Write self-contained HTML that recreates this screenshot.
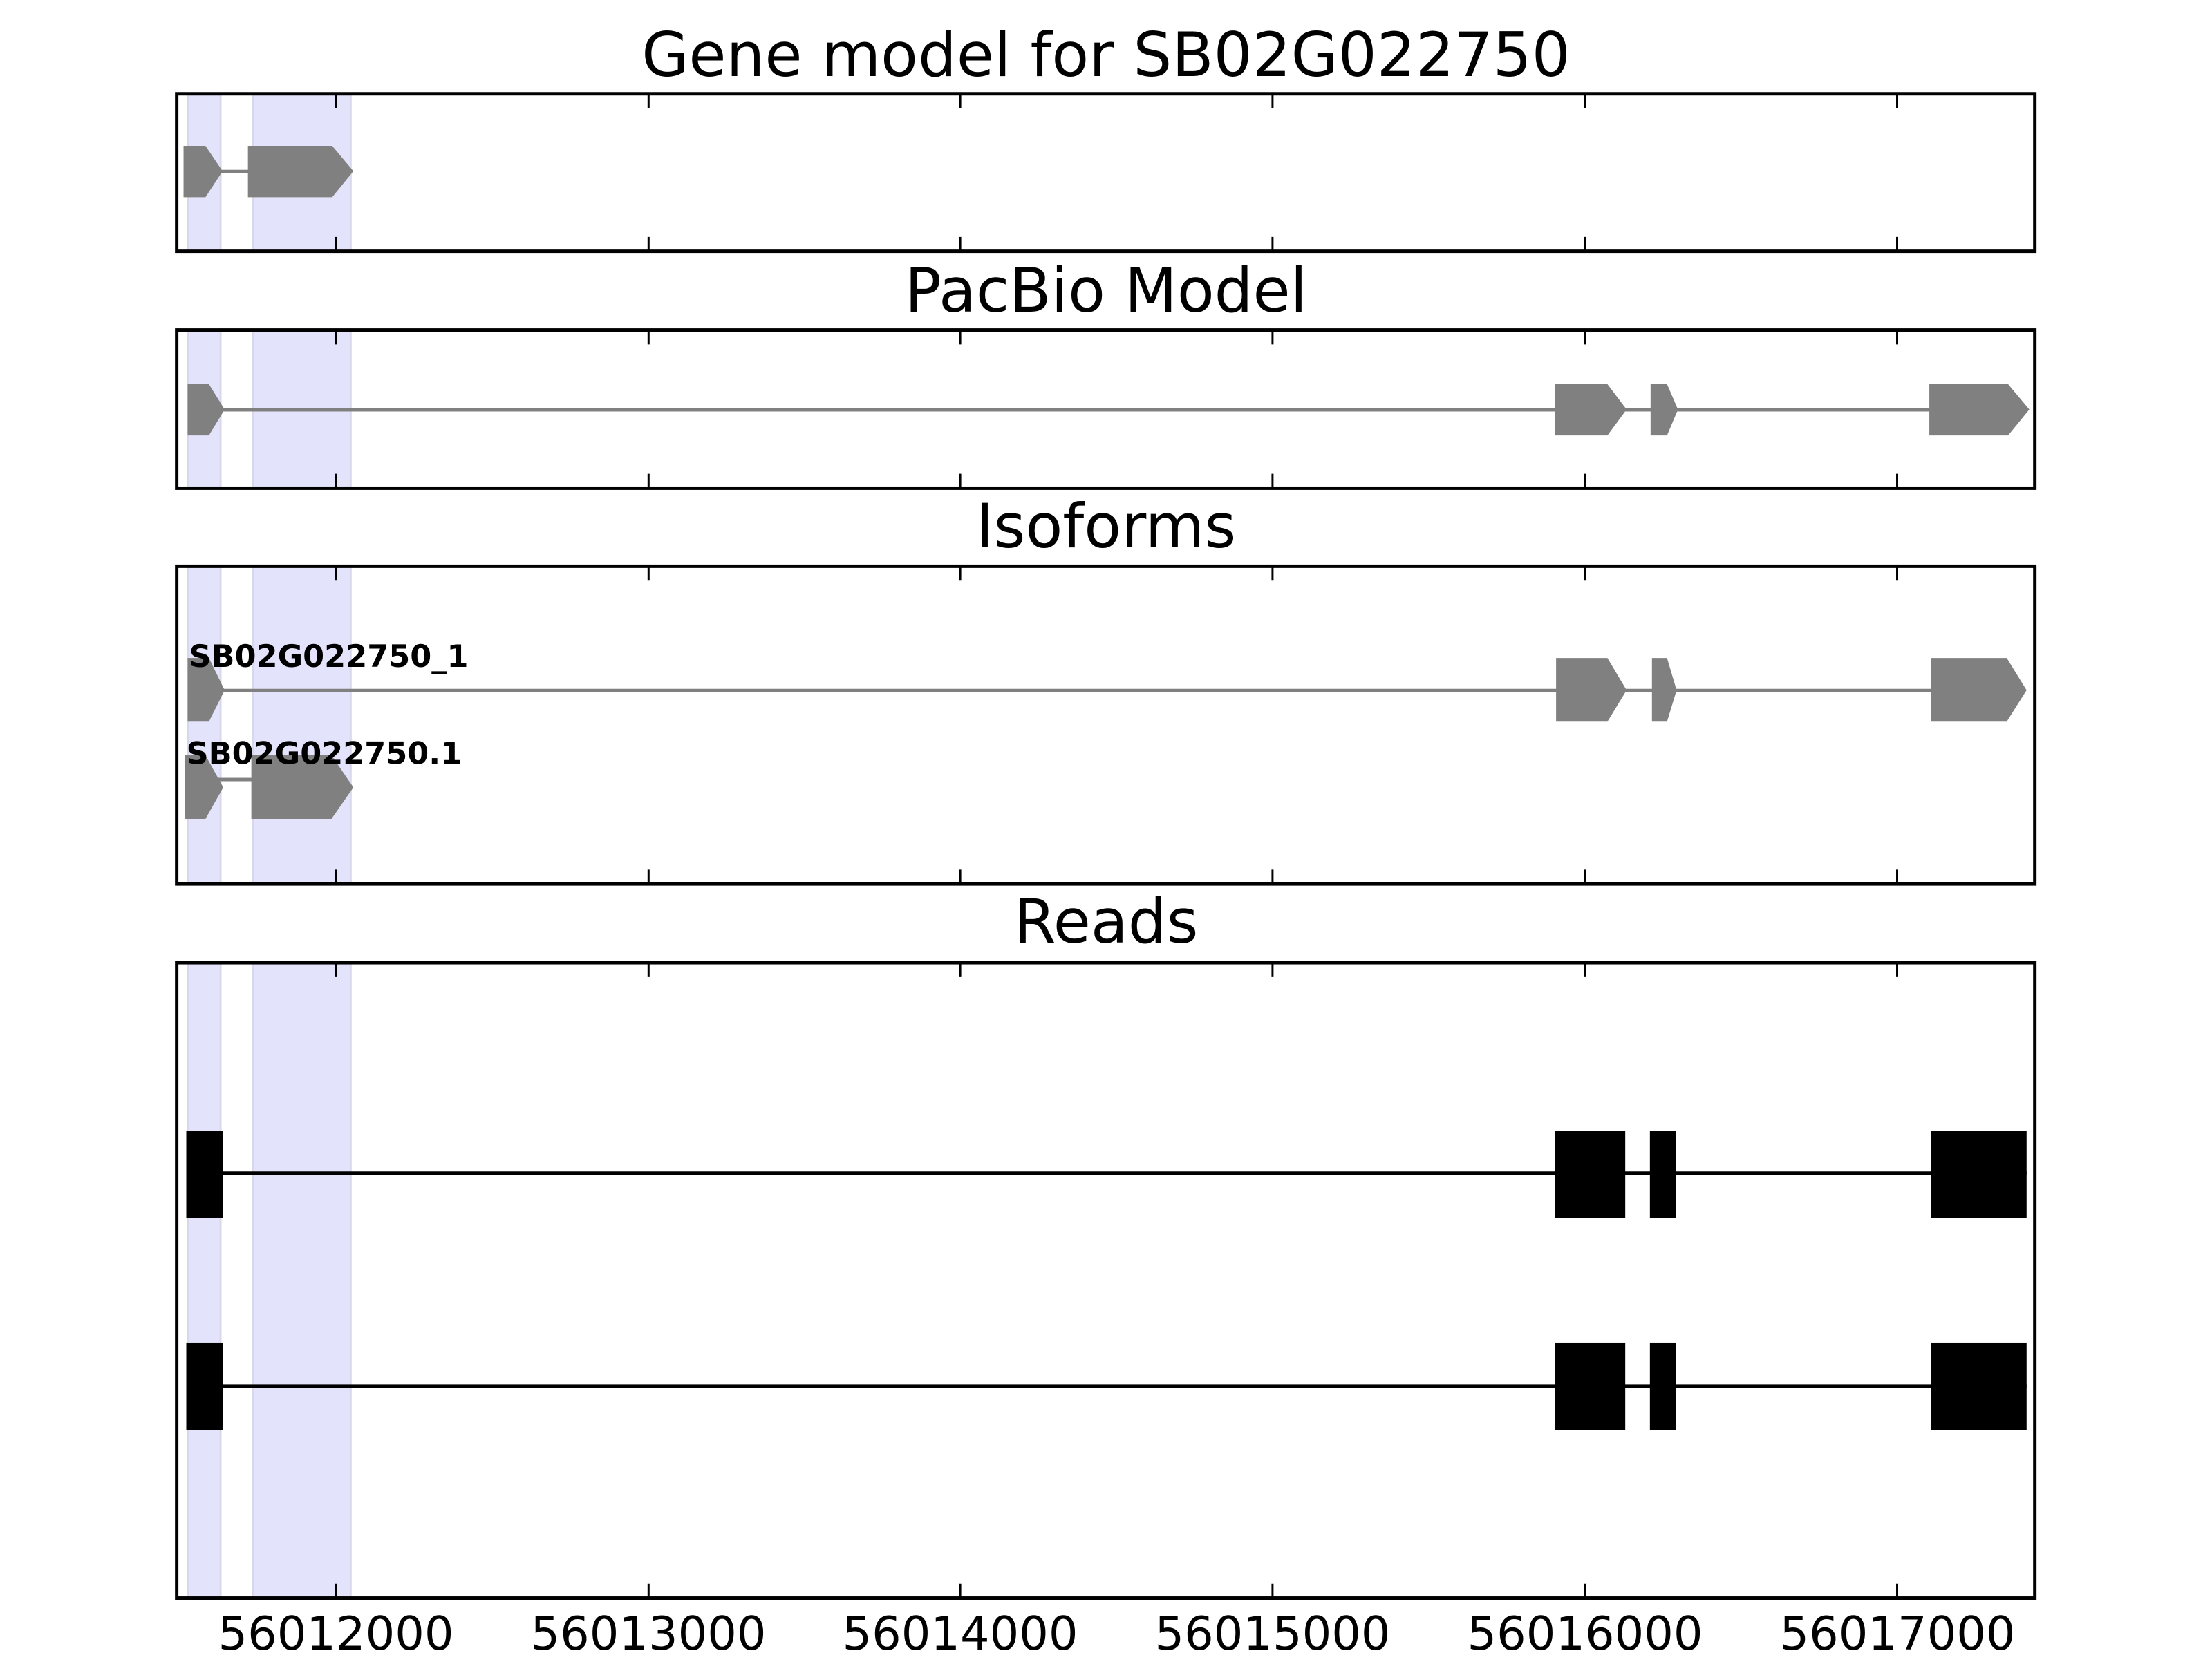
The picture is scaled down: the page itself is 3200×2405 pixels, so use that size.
<!DOCTYPE html>
<html><head><style>html,body{margin:0;padding:0;background:#fff}</style></head><body>
<svg width="3200" height="2400" viewBox="0 0 3200 2400" xmlns="http://www.w3.org/2000/svg" font-family="DejaVu Sans, Liberation Sans, sans-serif">
<rect width="3200" height="2400" fill="#fff"/>
<g transform="scale(0.9908)">
<g fill="#e3e3fb" stroke="#d8d8ea" stroke-width="3">
<rect x="274" y="137" width="48" height="230"/><rect x="369" y="137" width="143" height="230"/>
<rect x="274" y="482" width="48" height="231"/><rect x="369" y="482" width="143" height="231"/>
<rect x="274" y="827" width="48" height="464"/><rect x="369" y="827" width="143" height="464"/>
<rect x="274" y="1406" width="48" height="928"/><rect x="369" y="1406" width="143" height="928"/>
</g>
<g fill="#808080">
<rect x="300" y="248" width="65" height="5"/>
<polygon points="268,213 300,213 325,250 300,288 268,288"/>
<polygon points="362,213 485,213 516,250 485,288 362,288"/>
</g>
<g fill="#808080">
<rect x="300" y="596" width="2640" height="5"/>
<polygon points="274,561 305,561 328,598 305,636 274,636"/>
<polygon points="2270,561 2347,561 2375,598 2347,636 2270,636"/>
<polygon points="2410,561 2434,561 2450,598 2434,636 2410,636"/>
<polygon points="2817,561 2932,561 2963,598 2932,636 2817,636"/>
</g>
<g fill="#808080">
<rect x="300" y="1006" width="2640" height="5"/>
<polygon points="274,961 305,961 328,1008 305,1054 274,1054"/>
<polygon points="2272,961 2347,961 2375,1008 2347,1054 2272,1054"/>
<polygon points="2412,961 2434,961 2448,1008 2434,1054 2412,1054"/>
<polygon points="2819,961 2930,961 2959,1008 2930,1054 2819,1054"/>
<rect x="300" y="1136" width="70" height="5"/>
<polygon points="270,1103 300,1103 326,1150 300,1196 270,1196" />
<polygon points="367,1103 484,1103 516,1150 484,1196 367,1196"/>
</g>
<text x="276" y="974" font-size="45" font-weight="bold" fill="#000">SB02G022750_1</text>
<text x="272" y="1116" font-size="45" font-weight="bold" fill="#000">SB02G022750.1</text>
<g fill="#000">
<rect x="272" y="1711" width="2687" height="5"/>
<rect x="272" y="1652" width="54" height="127"/>
<rect x="2270" y="1652" width="103" height="127"/>
<rect x="2409" y="1652" width="38" height="127"/>
<rect x="2819" y="1652" width="140" height="127"/>
<rect x="272" y="2022" width="2687" height="5"/>
<rect x="272" y="1961" width="54" height="128"/>
<rect x="2270" y="1961" width="103" height="128"/>
<rect x="2409" y="1961" width="38" height="128"/>
<rect x="2819" y="1961" width="140" height="128"/>
</g>
<g fill="none" stroke="#000" stroke-width="5">
<rect x="258" y="137" width="2713" height="230"/>
<rect x="258" y="482" width="2713" height="231"/>
<rect x="258" y="827" width="2713" height="464"/>
<rect x="258" y="1406" width="2713" height="928"/>
</g>
<g stroke="#000" stroke-width="3">
<path d="M491 137v21M947 137v21M1402 137v21M1858 137v21M2314 137v21M2770 137v21 M491 367v-21M947 367v-21M1402 367v-21M1858 367v-21M2314 367v-21M2770 367v-21"/>
<path d="M491 482v21M947 482v21M1402 482v21M1858 482v21M2314 482v21M2770 482v21 M491 713v-21M947 713v-21M1402 713v-21M1858 713v-21M2314 713v-21M2770 713v-21"/>
<path d="M491 827v21M947 827v21M1402 827v21M1858 827v21M2314 827v21M2770 827v21 M491 1291v-21M947 1291v-21M1402 1291v-21M1858 1291v-21M2314 1291v-21M2770 1291v-21"/>
<path d="M491 1406v21M947 1406v21M1402 1406v21M1858 1406v21M2314 1406v21M2770 1406v21 M491 2334v-21M947 2334v-21M1402 2334v-21M1858 2334v-21M2314 2334v-21M2770 2334v-21"/>
</g>
</g>
<g font-size="88" text-anchor="middle" fill="#000">
<text x="1600" y="110">Gene model for SB02G022750</text>
<text x="1600" y="451">PacBio Model</text>
<text x="1600" y="792">Isoforms</text>
<text x="1600" y="1364">Reads</text>
</g>
<g font-size="67" text-anchor="middle" fill="#000">
<text x="486" y="2387">56012000</text>
<text x="938" y="2387">56013000</text>
<text x="1389" y="2387">56014000</text>
<text x="1841" y="2387">56015000</text>
<text x="2293" y="2387">56016000</text>
<text x="2745" y="2387">56017000</text>
</g>
</svg>
</body></html>
